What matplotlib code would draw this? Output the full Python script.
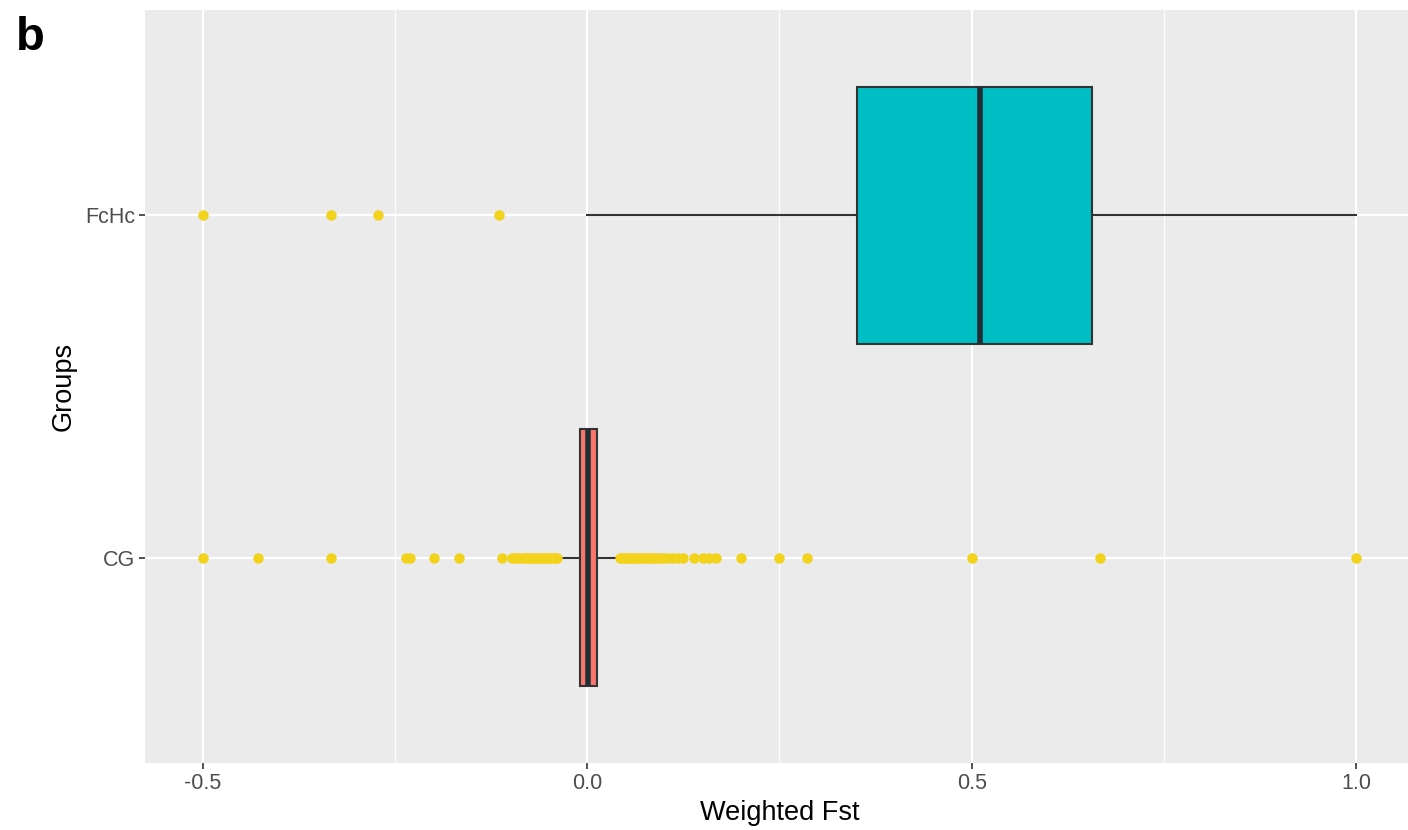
import matplotlib
matplotlib.use('Agg')
import matplotlib.pyplot as plt
from matplotlib.ticker import MultipleLocator

plt.rcParams['font.family'] = ['Liberation Sans', 'DejaVu Sans']

# groups, bottom to top
groups = ['CG', 'FcHc']
fills = ['#F8766D', '#00BFC4']

# box stats
q1 = [-0.009, 0.351]
med = [0.001, 0.511]
q3 = [0.012, 0.656]
whislo = [-0.036, 0.0]
whishi = [0.036, 1.0]

cg_out = [-0.5, -0.429, -0.333, -0.236, -0.231, -0.2, -0.167, -0.111,
          -0.098, -0.095, -0.091, -0.087, -0.083, -0.080, -0.077, -0.074,
          -0.071, -0.068, -0.065, -0.062, -0.059, -0.056, -0.053, -0.050,
          -0.048, -0.045, -0.042, -0.039,
          0.042, 0.045, 0.048, 0.050, 0.053, 0.056, 0.059, 0.062, 0.065,
          0.067, 0.071, 0.074, 0.077, 0.080, 0.083, 0.087, 0.091, 0.095,
          0.100, 0.105, 0.111, 0.118, 0.125,
          0.139, 0.150, 0.158, 0.167, 0.200, 0.250, 0.286, 0.500, 0.667, 1.0]
fchc_out = [-0.5, -0.334, -0.273, -0.115]
fliers = [cg_out, fchc_out]

stats = []
for i in range(len(groups)):
    stats.append(dict(label=groups[i], q1=q1[i], med=med[i], q3=q3[i],
                      whislo=whislo[i], whishi=whishi[i], fliers=fliers[i]))

W, H = 1408, 830
fig = plt.figure(figsize=(W / 100, H / 100), dpi=100)
# panel: x from -0.575 to 1.075, right edge slightly cut off like the original
ax = fig.add_axes([145.4 / W, (H - 763) / H, (1413.6 - 145.4) / W, (763 - 10) / H])
ax.set_facecolor('#EBEBEB')

bp = ax.bxp(stats, positions=[1, 2], widths=0.75, orientation='horizontal',
            patch_artist=True, showcaps=False,
            boxprops=dict(edgecolor='#333333', linewidth=1.5),
            whiskerprops=dict(color='#333333', linewidth=1.5),
            medianprops=dict(color='#1f2f33', linewidth=4),
            flierprops=dict(marker='o', markerfacecolor='#F3D21B',
                            markeredgecolor='#F3D21B', markersize=6.5))
for patch, c in zip(bp['boxes'], fills):
    patch.set_facecolor(c)
for fl in bp['fliers']:
    fl.set_zorder(4)
for m in bp['medians']:
    m.set_solid_capstyle('butt')

ax.set_xlim(-0.575, 1.075)
ax.set_ylim(0.4, 2.6)
ax.xaxis.set_major_locator(MultipleLocator(0.5))
ax.xaxis.set_minor_locator(MultipleLocator(0.25))
ax.set_yticks([1, 2])
ax.set_yticklabels(groups)
ax.set_xticks([-0.5, 0.0, 0.5, 1.0])
ax.set_xticklabels(['-0.5', '0.0', '0.5', '1.0'])

ax.grid(True, which='major', color='white', linewidth=1.6, zorder=0)
ax.grid(True, which='minor', axis='x', color='white', linewidth=0.8, zorder=0)
ax.set_axisbelow(True)
for s in ax.spines.values():
    s.set_visible(False)

ax.tick_params(axis='both', which='major', length=4.5, width=1.2, color='#333333',
               labelcolor='#4D4D4D', labelsize=15.5, pad=3)
ax.tick_params(axis='x', which='minor', length=0)

ax.set_xlabel('Weighted Fst', fontsize=19.5, color='black', labelpad=4)
ax.set_ylabel('Groups', fontsize=19.5, color='black', labelpad=6)

fig.text(16 / W, 1 - 50 / H, 'b', fontsize=34, fontweight='bold', color='black')

fig.savefig('out.png', dpi=100, facecolor='white')
